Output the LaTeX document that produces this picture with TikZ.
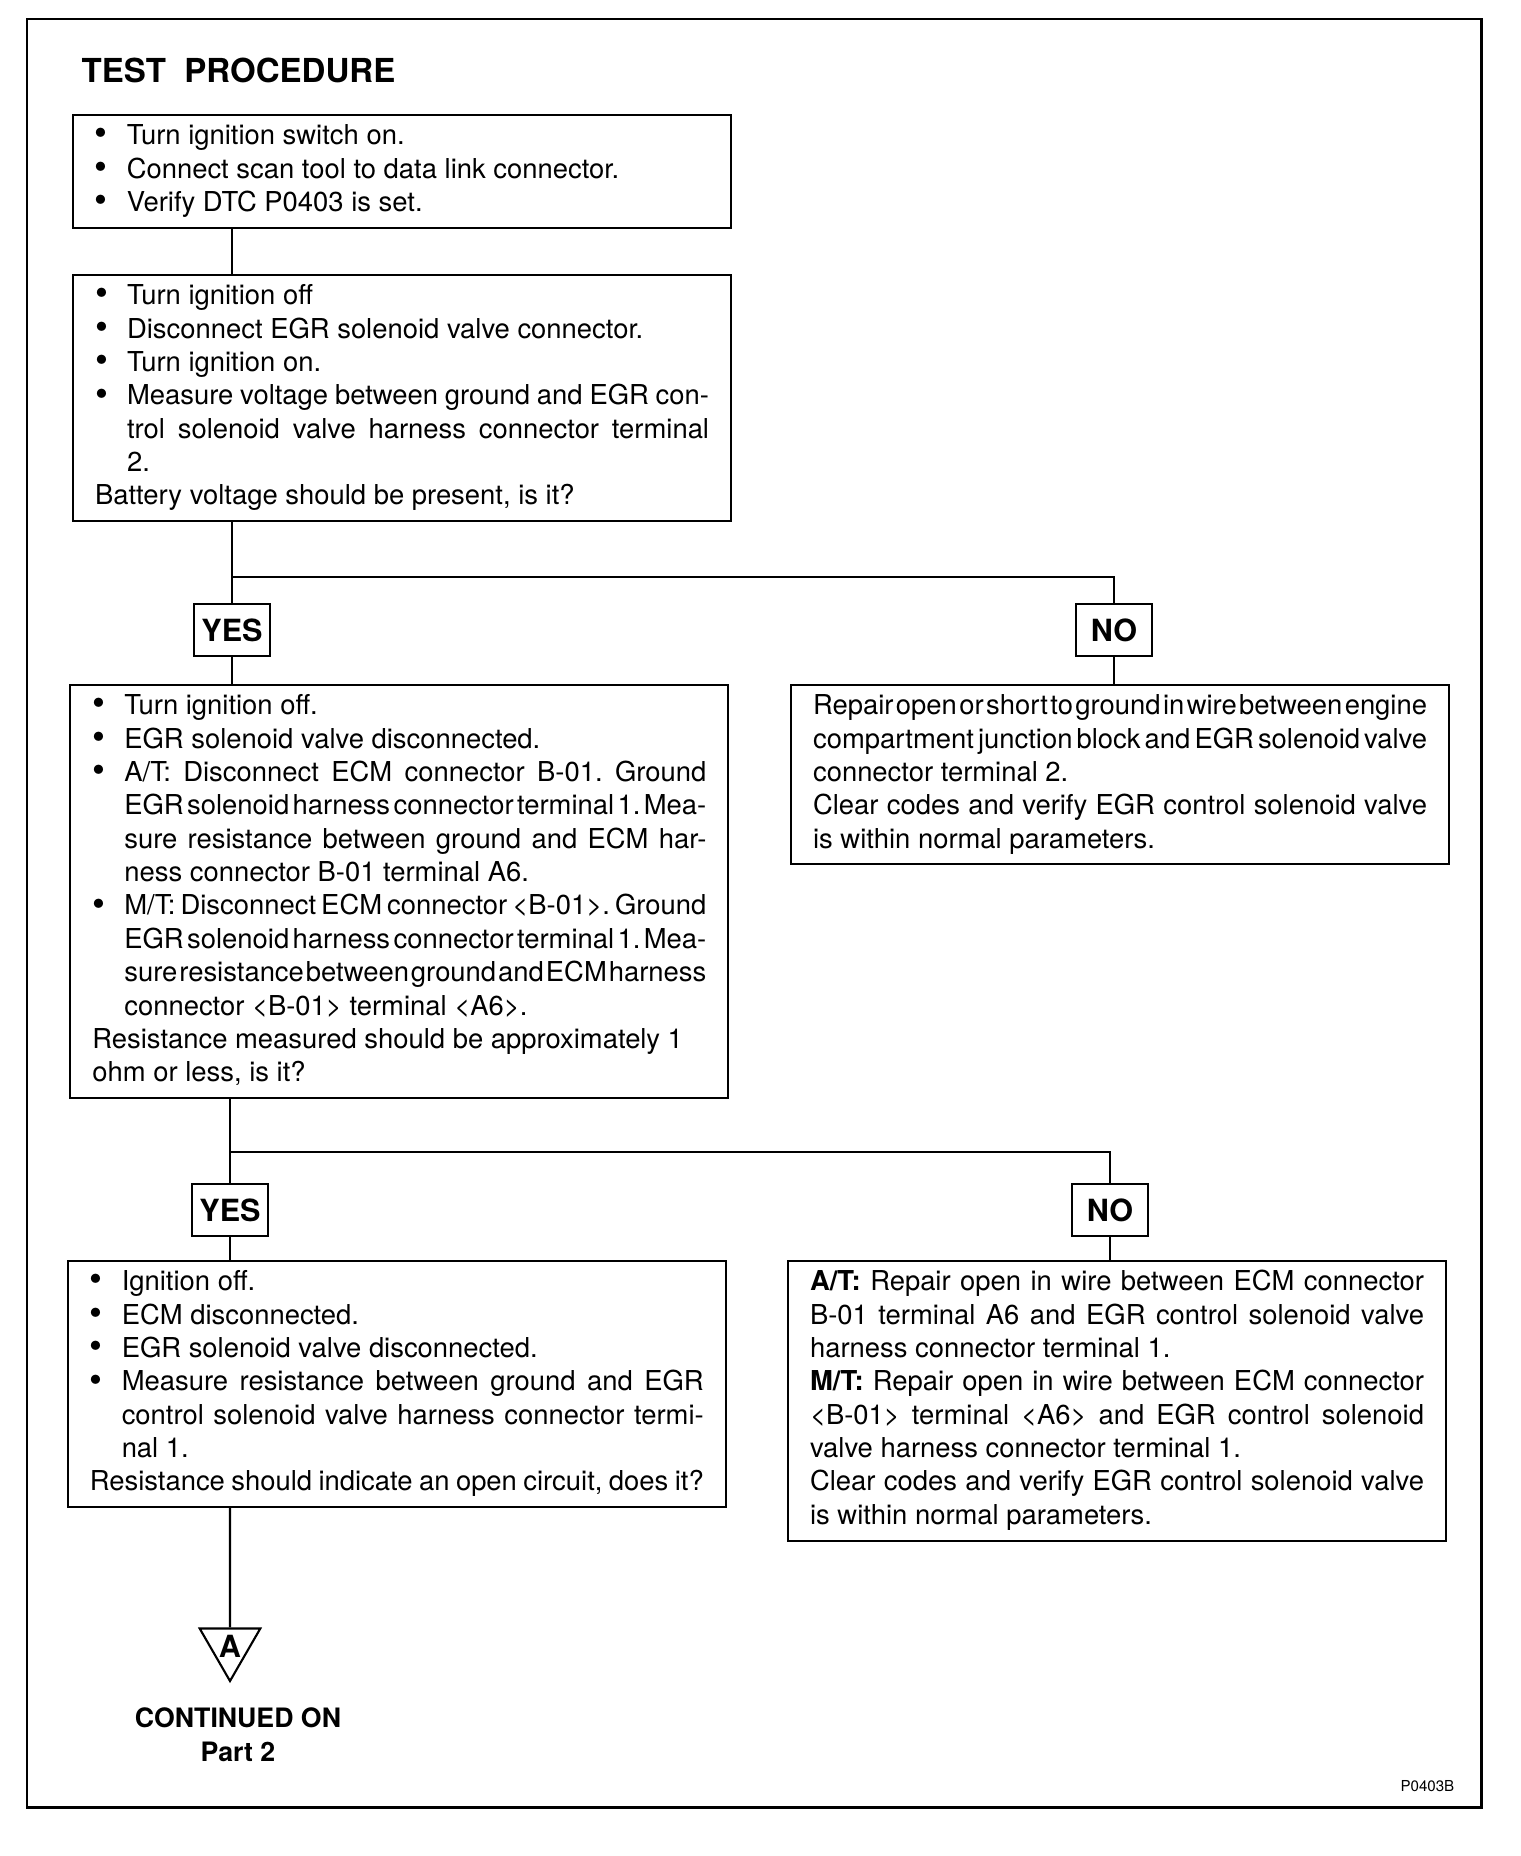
\documentclass[tikz,border=0pt]{standalone}
\usepackage{fontspec}
\setmainfont{TeX Gyre Heros}
\usetikzlibrary{shapes.geometric}

\newcommand{\egrfont}{\fontsize{7.8pt}{9.5pt}\selectfont\frenchspacing\spaceskip=.278em plus .35em minus .25em\relax\parskip=0pt\exhyphenpenalty=10000\hyphenpenalty=10000\tolerance=10000\relax}
\newcommand{\answerfont}{\fontsize{8.7pt}{10pt}\selectfont\bfseries}
\newcommand{\egrdot}{\raisebox{-0.35pt}{\fontsize{10.5pt}{9.5pt}\selectfont\textbullet}}
\newcommand{\egrbul}[1]{\noindent\hangindent=0.32cm\hangafter=1\strut\makebox[0.32cm][l]{\egrdot}#1\strut\par}
\newcommand{\egrpar}[1]{\noindent\strut#1\strut\par}

\begin{document}
\begin{tikzpicture}[
	stepbox/.style={draw, line width=0.6pt, anchor=north west, text width=6.14cm, inner xsep=0.22cm, inner ysep=0.062cm, align=justify, font=\egrfont},
	answer/.style={draw, line width=0.6pt, minimum width=0.76cm, minimum height=0.52cm, inner sep=0pt, font=\answerfont},
	wire/.style={line width=0.6pt}]
				
				\useasboundingbox (0,0) rectangle (15.2,-18.56);
				
				\draw[line width=0.85pt] (0.27,-0.19) rectangle (14.81,-18.07);
				
				\node[anchor=base west, inner sep=0pt, font=\fontsize{9.4pt}{11pt}\selectfont\bfseries] (title) at (0.81,-0.82) {TEST\ \ PROCEDURE};
				
				\node[stepbox] (box1) at (0.717,-1.14) {\egrbul{Turn ignition switch on.}\egrbul{Connect scan tool to data link connector.}\egrbul{Verify DTC P0403 is set.}};
				
				\node[stepbox] (box2) at (0.72,-2.74) {\egrbul{Turn ignition off}\egrbul{Disconnect EGR solenoid valve connector.}\egrbul{Turn ignition on.}\egrbul{Measure voltage between ground and EGR con-\linebreak trol solenoid valve harness connector terminal\linebreak 2.}\egrpar{Battery voltage should be present, is it?}};
				
				\node[answer] (yes1) at (2.32,-6.30) {YES};
				
				\node[answer] (no1) at (11.14,-6.30) {NO};
				
				\coordinate (split1) at (2.32,-5.773);
				
				\node[stepbox] (box3) at (0.693,-6.84) {\egrbul{Turn ignition off.}\egrbul{EGR solenoid valve disconnected.}\egrbul{A/T: Disconnect ECM connector B-01. Ground\linebreak EGR solenoid harness connector terminal 1. Mea-\linebreak sure resistance between ground and ECM har-\linebreak ness connector B-01 terminal A6.}\egrbul{M/T: Disconnect ECM connector <B-01>. Ground\linebreak EGR solenoid harness connector terminal 1. Mea-\linebreak sure resistance between ground and ECM harness\linebreak connector <B-01> terminal <A6>.}\egrpar{Resistance measured should be approximately 1\newline ohm or less, is it?}};
				
				\node[stepbox] (rep1) at (7.90,-6.84) {\egrpar{Repair open or short to ground in wire between engine\linebreak compartment junction block and EGR solenoid valve\linebreak connector terminal 2.}\egrpar{Clear codes and verify EGR control solenoid valve\linebreak is within normal parameters.}};
				
				\node[answer] (yes2) at (2.30,-12.10) {YES};
				
				\node[answer] (no2) at (11.10,-12.10) {NO};
				
				\coordinate (split2) at (2.30,-11.523);
				
				\node[stepbox] (box4) at (0.667,-12.60) {\egrbul{Ignition off.}\egrbul{ECM disconnected.}\egrbul{EGR solenoid valve disconnected.}\egrbul{Measure resistance between ground and EGR\linebreak control solenoid valve harness connector termi-\linebreak nal 1.}\egrpar{Resistance should indicate an open circuit, does it?}};
				
				\node[stepbox] (rep2) at (7.87,-12.60) {\egrpar{\textbf{A/T:} Repair open in wire between ECM connector\linebreak B-01 terminal A6 and EGR control solenoid valve\linebreak harness connector terminal 1.}\egrpar{\textbf{M/T:} Repair open in wire between ECM connector\linebreak <B-01> terminal <A6> and EGR control solenoid\linebreak valve harness connector terminal 1.}\egrpar{Clear codes and verify EGR control solenoid valve\linebreak is within normal parameters.}};
				
				\node[draw, line width=0.6pt, regular polygon, regular polygon sides=3, shape border rotate=180, minimum size=0.70cm, inner sep=0pt, font=\answerfont] (contA) at (2.30,-16.46) {A};
				
				\node[anchor=north, inner sep=0pt, align=center, font=\fontsize{7.6pt}{9.6pt}\selectfont\bfseries] (cont) at (2.38,-17.07) {CONTINUED ON\\Part 2};
				
				\node[anchor=base east, inner sep=0pt, font=\fontsize{4.3pt}{5pt}\selectfont] (code) at (14.55,-17.91) {P0403B};
				
				\draw[wire] (box1.south -| yes1) -- (box2.north -| yes1);
				
				\draw[wire] (box2.south -| yes1) -- (yes1.north);
				
				\draw[wire] (split1) -| (no1.north);
				
				\draw[wire] (yes1.south) -- (box3.north -| yes1);
				
				\draw[wire] (no1.south) -- (rep1.north -| no1);
				
				\draw[wire] (box3.south -| yes2) -- (yes2.north);
				
				\draw[wire] (split2) -| (no2.north);
				
				\draw[wire] (yes2.south) -- (box4.north -| yes2);
				
				\draw[wire] (no2.south) -- (rep2.north -| no2);
				
				\draw[wire] (box4.south -| contA) -- (contA.north);
				
				\end{tikzpicture}
\end{document}
